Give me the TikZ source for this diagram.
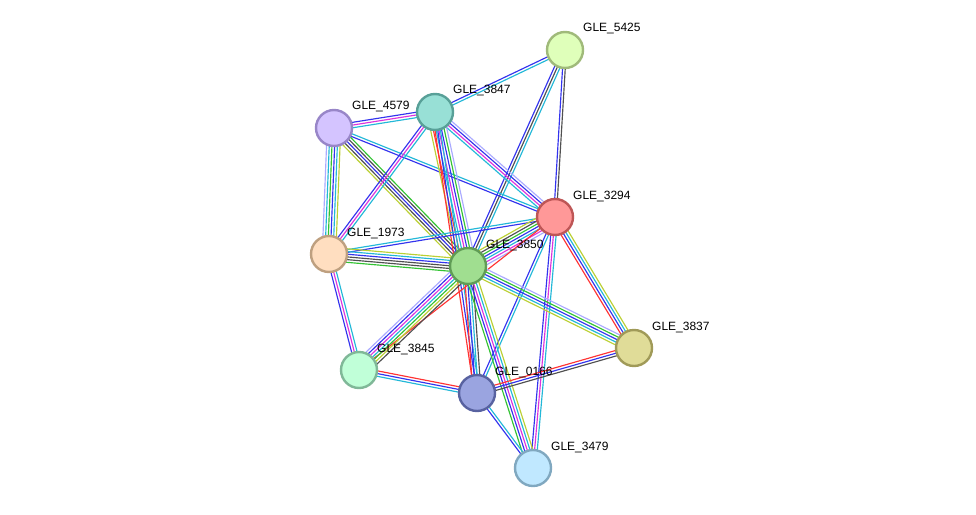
\documentclass[tikz,border=0pt]{standalone}
\usepackage{fontspec}
\setmainfont{Liberation Sans}
\usetikzlibrary{calc}
\definecolor{cy}{HTML}{22B8D8}
\definecolor{mg}{HTML}{DD33DD}
\definecolor{bl}{HTML}{3333EE}
\definecolor{gr}{HTML}{33C333}
\definecolor{rd}{HTML}{FF3333}
\definecolor{gy}{HTML}{505050}
\definecolor{yg}{HTML}{BBD033}
\definecolor{lv}{HTML}{AAAAFF}
\newcommand\edgebundle[3]{%
  \foreach \col [count=\ii] in {#3} {\xdef\nnlines{\ii}}%
  \foreach \col [count=\ii] in {#3} {%
    \pgfmathsetmacro\off{(\ii-(\nnlines+1)/2)*2.7}%
    \draw[draw=\col, line width=1.15pt] ($(#1)!\off pt!90:(#2)$) -- ($(#2)!\off pt!-90:(#1)$);%
  }%
}
\tikzset{
  prot/.style={circle, minimum size=36pt, inner sep=0pt, line width=2.4pt},
  lbl/.style={anchor=west, inner sep=0pt, font=\fontsize{12}{14}\selectfont, text=black}
}
\begin{document}
\begin{tikzpicture}[x=1pt,y=-1pt]
\useasboundingbox[fill=white] (0,0) rectangle (976,514);
% node coordinates
\coordinate (n5425) at (565,50);
\coordinate (n3847) at (435,112);
\coordinate (n4579) at (334,128);
\coordinate (n3294) at (555,217);
\coordinate (n1973) at (329,254);
\coordinate (n3850) at (468,266);
\coordinate (n3837) at (634,348);
\coordinate (n3845) at (359,370);
\coordinate (n0166) at (477,393);
\coordinate (n3479) at (533,468);
% edges
\edgebundle{n5425}{n3847}{bl,cy}
\edgebundle{n5425}{n3850}{bl,gy,cy}
\edgebundle{n5425}{n3294}{bl,gy}
\edgebundle{n4579}{n3847}{cy,mg,bl}
\edgebundle{n4579}{n3294}{bl,cy}
\edgebundle{n4579}{n1973}{lv,cy,gr,bl,cy,yg}
\edgebundle{n4579}{n3850}{yg,gy,bl,gy,gr}
\edgebundle{n3847}{n3294}{cy,mg,bl,lv}
\edgebundle{n3847}{n3850}{yg,rd,cy,mg,bl,gr,lv}
\edgebundle{n3847}{n1973}{bl,mg,cy}
\edgebundle{n3847}{n0166}{rd,bl,cy}
\edgebundle{n1973}{n3294}{bl,cy}
\edgebundle{n1973}{n3850}{gr,gy,gy,bl,cy,yg}
\edgebundle{n1973}{n3845}{bl,mg,cy}
\edgebundle{n3294}{n3850}{yg,gy,gr,bl,cy,mg,lv}
\edgebundle{n3294}{n3845}{rd}
\edgebundle{n3294}{n0166}{bl,cy}
\edgebundle{n3294}{n3479}{bl,mg,cy}
\edgebundle{n3294}{n3837}{rd,bl,cy,yg}
\edgebundle{n3850}{n3837}{yg,cy,bl,gr,lv}
\edgebundle{n3850}{n3845}{lv,bl,mg,cy,gr,yg,gy}
\edgebundle{n3850}{n0166}{rd,bl,cy,gy}
\edgebundle{n3850}{n3479}{gr,bl,mg,cy,yg}
\edgebundle{n3845}{n0166}{cy,bl,rd}
\edgebundle{n0166}{n3837}{gy,bl,rd}
\edgebundle{n0166}{n3479}{bl,cy}
% nodes
\node[prot, fill={rgb,255:red,223;green,255;blue,186}, draw={rgb,255:red,160;green,186;blue,122}] (p5425) at (n5425) {};
\node[prot, fill={rgb,255:red,152;green,224;blue,214}, draw={rgb,255:red,88;green,160;blue,152}] (p3847) at (n3847) {};
\node[prot, fill={rgb,255:red,212;green,196;blue,255}, draw={rgb,255:red,152;green,134;blue,200}] (p4579) at (n4579) {};
\node[prot, fill={rgb,255:red,255;green,152;blue,152}, draw={rgb,255:red,190;green,86;blue,86}] (p3294) at (n3294) {};
\node[prot, fill={rgb,255:red,255;green,222;blue,192}, draw={rgb,255:red,190;green,160;blue,128}] (p1973) at (n1973) {};
\node[prot, fill={rgb,255:red,160;green,222;blue,144}, draw={rgb,255:red,96;green,156;blue,86}] (p3850) at (n3850) {};
\node[prot, fill={rgb,255:red,224;green,220;blue,152}, draw={rgb,255:red,160;green,154;blue,88}] (p3837) at (n3837) {};
\node[prot, fill={rgb,255:red,192;green,255;blue,216}, draw={rgb,255:red,128;green,184;blue,152}] (p3845) at (n3845) {};
\node[prot, fill={rgb,255:red,154;green,164;blue,224}, draw={rgb,255:red,88;green,98;blue,160}] (p0166) at (n0166) {};
\node[prot, fill={rgb,255:red,192;green,232;blue,255}, draw={rgb,255:red,128;green,168;blue,192}] (p3479) at (n3479) {};
% labels
\node[lbl] (l5425) at ($(n5425)+(18,-21)$) {GLE\_5425};
\node[lbl] (l3847) at ($(n3847)+(18,-21)$) {GLE\_3847};
\node[lbl] (l4579) at ($(n4579)+(18,-21)$) {GLE\_4579};
\node[lbl] (l3294) at ($(n3294)+(18,-21)$) {GLE\_3294};
\node[lbl] (l1973) at ($(n1973)+(18,-21)$) {GLE\_1973};
\node[lbl] (l3850) at ($(n3850)+(18,-21)$) {GLE\_3850};
\node[lbl] (l3837) at ($(n3837)+(18,-21)$) {GLE\_3837};
\node[lbl] (l3845) at ($(n3845)+(18,-21)$) {GLE\_3845};
\node[lbl] (l0166) at ($(n0166)+(18,-21)$) {GLE\_0166};
\node[lbl] (l3479) at ($(n3479)+(18,-21)$) {GLE\_3479};
\end{tikzpicture}
\end{document}
